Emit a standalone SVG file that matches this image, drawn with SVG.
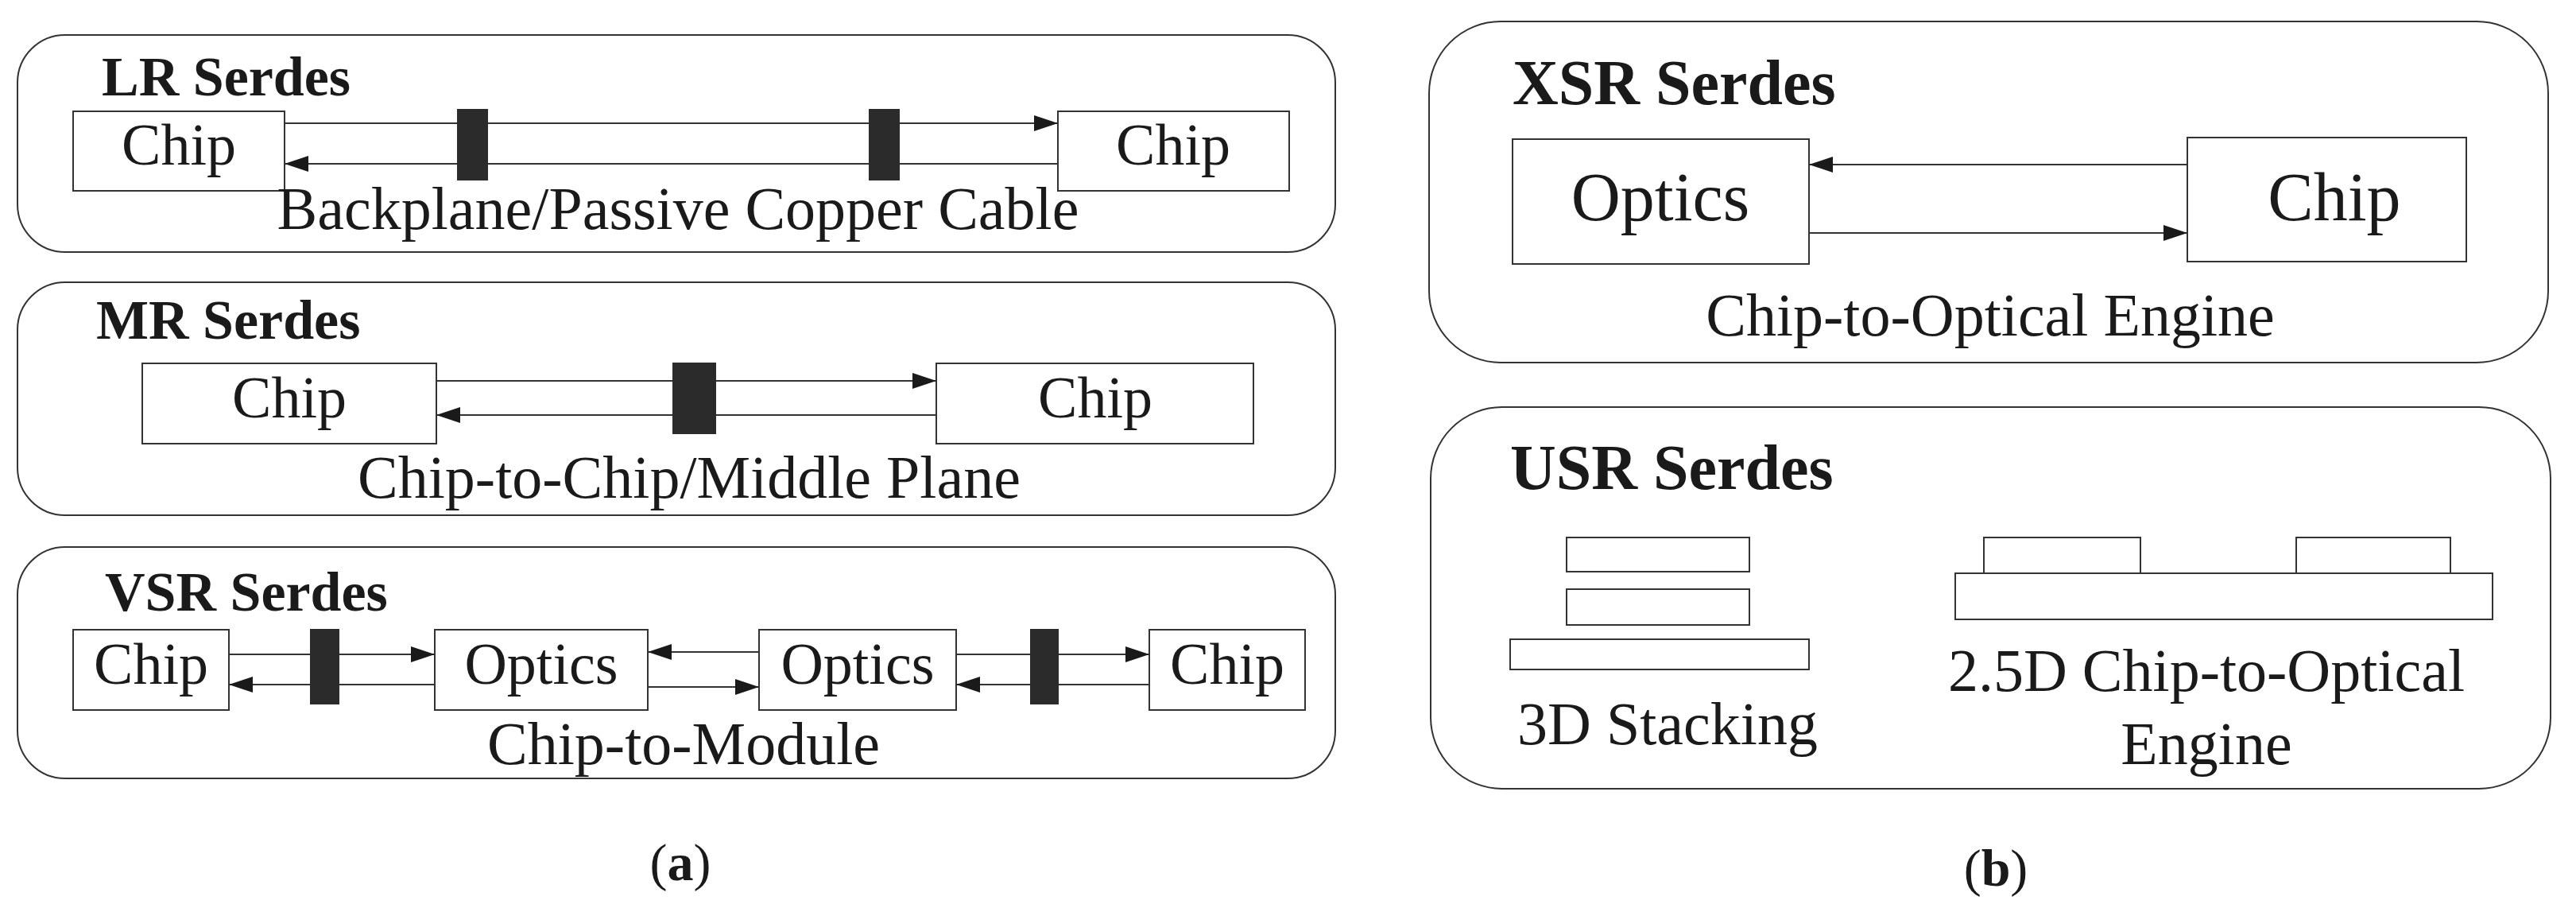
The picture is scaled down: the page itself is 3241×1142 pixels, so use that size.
<svg xmlns="http://www.w3.org/2000/svg" width="3241" height="1142" viewBox="0 0 3241 1142">
<style>
.panel{fill:none;stroke:#333;stroke-width:2}
.box{fill:#fff;stroke:#333;stroke-width:2}
.bar{fill:#2b2b2b}
.ln{stroke:#333;stroke-width:2;fill:none;marker-end:url(#ah)}
text{font-family:"Liberation Serif","Times New Roman",serif;fill:#1a1a1a}
.t{font-weight:bold;font-size:70px}
.tb{font-weight:bold;font-size:80px}
.l{font-size:74px;text-anchor:middle}
.lb{font-size:86px;text-anchor:middle}
.cap{font-size:76px;text-anchor:middle}
</style>
<defs>
<marker id="ah" markerWidth="30" markerHeight="20" refX="30" refY="10" orient="auto" markerUnits="userSpaceOnUse">
<path d="M0,0 L30,10 L0,20 Z" fill="#1a1a1a"/>
</marker>
</defs>
<g id="lr">
<rect class="panel" x="22" y="44" width="1658" height="273" rx="60"/>
<text class="t" x="128" y="120">LR Serdes</text>
<rect class="box" x="92" y="140" width="266" height="100"/>
<text class="l" x="225" y="207">Chip</text>
<rect class="box" x="1331" y="140" width="291" height="100"/>
<text class="l" x="1476" y="207">Chip</text>
<text class="cap" x="853" y="288">Backplane/Passive Copper Cable</text>
</g>
<g id="mr">
<rect class="panel" x="22" y="355" width="1658" height="293" rx="60"/>
<text class="t" x="121" y="426">MR Serdes</text>
<rect class="box" x="179" y="457" width="370" height="101"/>
<text class="l" x="364" y="525">Chip</text>
<rect class="box" x="1178" y="457" width="399" height="101"/>
<text class="l" x="1378" y="525">Chip</text>
<text class="cap" x="867" y="626">Chip-to-Chip/Middle Plane</text>
</g>
<g id="vsr">
<rect class="panel" x="22" y="688" width="1658" height="291" rx="60"/>
<text class="t" x="132" y="768">VSR Serdes</text>
<rect class="box" x="92" y="792" width="196" height="101"/>
<text class="l" x="190" y="860">Chip</text>
<rect class="box" x="547" y="792" width="268" height="101"/>
<text class="l" x="681" y="860">Optics</text>
<rect class="box" x="955" y="792" width="248" height="101"/>
<text class="l" x="1079" y="860">Optics</text>
<rect class="box" x="1446" y="792" width="196" height="101"/>
<text class="l" x="1544" y="860">Chip</text>
<text class="cap" x="860" y="961">Chip-to-Module</text>
</g>
<g id="xsr">
<rect class="panel" x="1798" y="27" width="1408" height="429" rx="90"/>
<text class="tb" x="1903" y="131">XSR Serdes</text>
<rect class="box" x="1903" y="175" width="373" height="157"/>
<text class="lb" x="2089" y="277">Optics</text>
<rect class="box" x="2752" y="173" width="351" height="156"/>
<text class="lb" x="2937" y="277">Chip</text>
<text class="cap" x="2504" y="422">Chip-to-Optical Engine</text>
</g>
<g id="usr">
<rect class="panel" x="1800" y="512" width="1409" height="480" rx="90"/>
<text class="tb" x="1900" y="615">USR Serdes</text>
<rect class="box" x="1971" y="676" width="230" height="43"/>
<rect class="box" x="1971" y="741" width="230" height="45"/>
<rect class="box" x="1900" y="804" width="376" height="38"/>
<text class="cap" x="2098" y="936">3D Stacking</text>
<rect class="box" x="2496" y="676" width="197" height="45"/>
<rect class="box" x="2889" y="676" width="194" height="45"/>
<rect class="box" x="2460" y="721" width="676" height="58"/>
<text class="cap" x="2776" y="869">2.5D Chip-to-Optical</text>
<text class="cap" x="2776" y="961">Engine</text>
</g>
<g id="connectors">
<line class="ln" x1="358" y1="155" x2="1331" y2="155"/>
<line class="ln" x1="1331" y1="206" x2="358" y2="206"/>
<rect class="bar" x="575" y="137" width="39" height="90"/>
<rect class="bar" x="1093" y="137" width="39" height="90"/>
<line class="ln" x1="549" y1="479" x2="1178" y2="479"/>
<line class="ln" x1="1178" y1="522" x2="549" y2="522"/>
<rect class="bar" x="846" y="456" width="55" height="90"/>
<line class="ln" x1="288" y1="823" x2="547" y2="823"/>
<line class="ln" x1="547" y1="861" x2="288" y2="861"/>
<rect class="bar" x="390" y="791" width="37" height="95"/>
<line class="ln" x1="955" y1="820" x2="815" y2="820"/>
<line class="ln" x1="815" y1="864" x2="955" y2="864"/>
<line class="ln" x1="1203" y1="823" x2="1446" y2="823"/>
<line class="ln" x1="1446" y1="861" x2="1203" y2="861"/>
<rect class="bar" x="1296" y="791" width="36" height="95"/>
<line class="ln" x1="2752" y1="207" x2="2276" y2="207"/>
<line class="ln" x1="2276" y1="293" x2="2752" y2="293"/>
</g>
<text x="856" y="1107" style="font-size:66px;text-anchor:middle">(<tspan font-weight="bold">a</tspan>)</text>
<text x="2511" y="1114" style="font-size:66px;text-anchor:middle">(<tspan font-weight="bold">b</tspan>)</text>
</svg>
